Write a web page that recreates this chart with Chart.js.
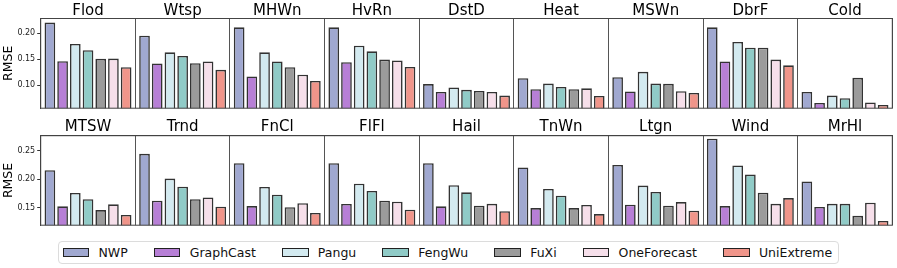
<!DOCTYPE html>
<html>
<head>
<meta charset="utf-8">
<script src="https://cdn.jsdelivr.net/npm/chart.js@4.4.1/dist/chart.umd.min.js"></script>
<style>
  html, body { margin: 0; padding: 0; background: #fff; }
  body { width: 897px; height: 268px; position: relative; overflow: hidden; font-family: 'DejaVu Sans', sans-serif; }
  canvas { position: absolute; left: 0; }
  #legend { position: absolute; left: 58px; top: 241px; width: 781px; height: 23px; box-sizing: border-box;
    border: 1px solid #dcdcdc; border-radius: 4px; display: flex; align-items: center; padding-left: 3.5px; }
  .item { display: flex; align-items: center; margin-right: 26px; font-size: 12.5px; color: #111; white-space: nowrap; }
  .sw { width: 26.7px; height: 8.7px; box-sizing: border-box; border: 1px solid #222; margin-right: 9.3px; }
</style>
</head>
<body>
<canvas id="c1" width="897" height="115" style="top:0px"></canvas>
<canvas id="c2" width="897" height="115" style="top:117px"></canvas>
<div id="legend"></div>
<script>
// ---- data ----
const categoriesTop = ['Flod', 'Wtsp', 'MHWn', 'HvRn', 'DstD', 'Heat', 'MSWn', 'DbrF', 'Cold'];
const categoriesBottom = ['MTSW', 'Trnd', 'FnCl', 'FlFl', 'Hail', 'TnWn', 'Ltgn', 'Wind', 'MrHl'];
const seriesNames = ['NWP', 'GraphCast', 'Pangu', 'FengWu', 'FuXi', 'OneForecast', 'UniExtreme'];

const nwpTop        = [0.220, 0.195, 0.211, 0.211, 0.102, 0.1135, 0.1154, 0.211, 0.0871];
const graphcastTop  = [0.146, 0.1417, 0.1167, 0.144, 0.087, 0.0923, 0.0879, 0.1455, 0.066];
const panguTop      = [0.179, 0.163, 0.163, 0.1756, 0.0956, 0.103, 0.1256, 0.183, 0.080];
const fengwuTop     = [0.167, 0.156, 0.1455, 0.165, 0.091, 0.0967, 0.103, 0.1718, 0.075];
const fuxiTop       = [0.1506, 0.142, 0.1346, 0.149, 0.089, 0.0923, 0.1025, 0.1718, 0.114];
const oneforecastTop= [0.151, 0.1455, 0.120, 0.1475, 0.087, 0.094, 0.0885, 0.149, 0.0667];
const uniextremeTop = [0.1346, 0.1295, 0.108, 0.135, 0.080, 0.0794, 0.0852, 0.138, 0.062];

const nwpBottom        = [0.2158, 0.2444, 0.228, 0.228, 0.228, 0.2204, 0.225, 0.2707, 0.196];
const graphcastBottom  = [0.1526, 0.1625, 0.153, 0.1567, 0.1526, 0.1496, 0.1555, 0.153, 0.1514];
const panguBottom      = [0.176, 0.201, 0.1865, 0.192, 0.1895, 0.183, 0.1888, 0.224, 0.157];
const fengwuBottom     = [0.165, 0.187, 0.173, 0.1795, 0.177, 0.1712, 0.1777, 0.208, 0.157];
const fuxiBottom       = [0.146, 0.165, 0.151, 0.1625, 0.1537, 0.1496, 0.1537, 0.1765, 0.136];
const oneforecastBottom= [0.156, 0.168, 0.158, 0.1607, 0.157, 0.155, 0.160, 0.157, 0.159];
const uniextremeBottom = [0.1374, 0.152, 0.141, 0.1467, 0.144, 0.139, 0.145, 0.167, 0.127];

const ticksTop = [0.10, 0.15, 0.20];
const ticksBottom = [0.15, 0.20, 0.25];
const yLimitsTop = [0.0558, 0.2279];
const yLimitsBottom = [0.1196, 0.276];

// ---- styles ----
const colors = ['#a0a8d0', '#b77fd6', '#d3eaf0', '#90cbc7', '#9b9b9b', '#f6dfea', '#f0958a'];
const FONT = "'DejaVu Sans', sans-serif";

const frame = {
  id: 'frame',
  afterDatasetsDraw(chart) {
    const a = chart.chartArea, ctx = chart.ctx;
    ctx.save();
    ctx.strokeStyle = '#444';
    ctx.lineWidth = 1;
    ctx.strokeRect(a.left, a.top, a.right - a.left, a.bottom - a.top);
    ctx.restore();
  }
};

function makeChart(id, cats, seriesData, yTicks, yLim, titlePad) {
  const datasets = seriesData.map((d, i) => ({
    label: seriesNames[i],
    data: d,
    backgroundColor: colors[i],
    borderColor: 'rgba(15,15,15,0.85)',
    borderWidth: 1.6,
    categoryPercentage: 0.94,
    barPercentage: 0.84
  }));
  return new Chart(document.getElementById(id), {
    type: 'bar',
    data: { labels: cats, datasets },
    plugins: [frame],
    options: {
      responsive: false,
      animation: false,
      devicePixelRatio: 1,
      layout: { padding: { left: 0, right: 4.7, top: 0, bottom: 5 } },
      plugins: { legend: { display: false }, tooltip: { enabled: false } },
      scales: {
        x: {
          position: 'top',
          offset: true,
          grid: { offset: true, drawTicks: false, color: '#555', lineWidth: 1 },
          border: { display: true, color: '#444' },
          ticks: { color: '#000', padding: titlePad, font: { family: FONT, size: 15, lineHeight: 1 }, maxRotation: 0, autoSkip: false },
          afterFit(s) { s.height = id === 'c1' ? 18.5 : 18.7; }
        },
        y: {
          min: yLim[0], max: yLim[1],
          afterBuildTicks(s) { s.ticks = yTicks.map(v => ({ value: v })); },
          grid: { drawOnChartArea: false, drawTicks: true, tickLength: 3.5, color: '#333' },
          border: { display: true, color: '#444' },
          ticks: { color: '#222', padding: 2, font: { family: FONT, size: 8 }, callback: v => Number(v).toFixed(2) },
          title: { display: true, text: 'RMSE', color: '#000', padding: { top: 1, bottom: 0 }, font: { family: FONT, size: 12.5 } },
          afterFit(s) { s.width = 40.7; }
        }
      }
    }
  });
}

makeChart('c1', categoriesTop,
  [nwpTop, graphcastTop, panguTop, fengwuTop, fuxiTop, oneforecastTop, uniextremeTop],
  ticksTop, yLimitsTop, 0);
makeChart('c2', categoriesBottom,
  [nwpBottom, graphcastBottom, panguBottom, fengwuBottom, fuxiBottom, oneforecastBottom, uniextremeBottom],
  ticksBottom, yLimitsBottom, 1);

// ---- legend ----
const lg = document.getElementById('legend');
seriesNames.forEach((n, i) => {
  const it = document.createElement('div');
  it.className = 'item';
  const sw = document.createElement('span');
  sw.className = 'sw';
  sw.style.background = colors[i];
  const tx = document.createElement('span');
  tx.textContent = n;
  it.appendChild(sw); it.appendChild(tx);
  lg.appendChild(it);
});
</script>
</body>
</html>
